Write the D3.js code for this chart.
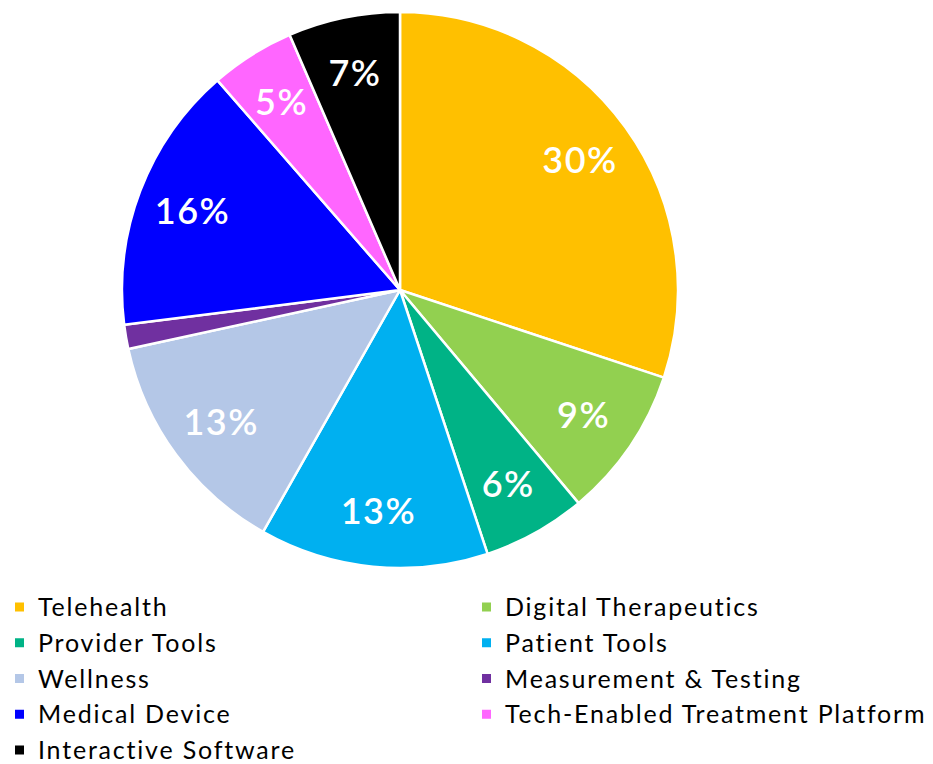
<!DOCTYPE html>
<html>
<head>
<meta charset="utf-8">
<script src="https://cdn.jsdelivr.net/npm/d3@7"></script>
<style>
  body { margin: 0; background: #fff; }
  text { font-family: Lato, "Open Sans", sans-serif; }
</style>
</head>
<body>
<svg id="chart"></svg>
<script>
const categories = ["Telehealth", "Digital Therapeutics", "Provider Tools", "Patient Tools", "Wellness",
  "Measurement & Testing", "Medical Device", "Tech-Enabled Treatment Platform", "Interactive Software"];
const shares = [30.1, 8.8, 6.0, 13.3, 13.4, 1.4, 15.6, 4.9, 6.5];
const colors = ["#FFC000", "#92D050", "#00B386", "#00B0F0", "#B4C7E7", "#7030A0", "#0000FF", "#FF66FF", "#000000"];

const width = 933, height = 764;
const cx = 400, cy = 290, radius = 278;

const svg = d3.select("#chart")
  .attr("width", width)
  .attr("height", height);

const data = categories.map((c, i) => ({name: c, value: shares[i], color: colors[i]}));

const pie = d3.pie().value(d => d.value).sort(null);
const arc = d3.arc().innerRadius(0).outerRadius(radius);
const labelArc = d3.arc().innerRadius(222).outerRadius(222);

const g = svg.append("g").attr("transform", `translate(${cx},${cy})`);
const arcs = pie(data);

g.selectAll("path")
  .data(arcs)
  .enter().append("path")
  .attr("d", arc)
  .attr("fill", d => d.data.color)
  .attr("stroke", "#fff")
  .attr("stroke-width", 2.5)
  .attr("stroke-linejoin", "round");

// small slices (measurement) have no label in the original
g.selectAll(".lbl")
  .data(arcs.filter(d => d.data.value >= 2))
  .enter().append("text")
  .attr("class", "lbl")
  .attr("transform", d => `translate(${labelArc.centroid(d)})`)
  .attr("text-anchor", "middle")
  .attr("dy", "0.36em")
  .attr("fill", "#fff")
  .attr("font-size", 36)
  .attr("font-weight", 600)
  .attr("letter-spacing", 1.5)
  .text(d => Math.round(d.data.value) + "%");

// legend, two columns
const legend = svg.append("g");
const colX = [15, 482], rowY = d3.scalePoint().domain(d3.range(5)).range([607, 750]);

const items = legend.selectAll("g")
  .data(data)
  .enter().append("g")
  .attr("transform", (d, i) => `translate(${colX[i % 2]},${rowY(Math.floor(i / 2))})`);

items.append("rect")
  .attr("x", 0).attr("y", -4.5)
  .attr("width", 9).attr("height", 9)
  .attr("fill", d => d.color);

items.append("text")
  .attr("x", 23)
  .attr("dy", "0.36em")
  .attr("font-size", 25)
  .attr("letter-spacing", 1.8)
  .attr("fill", "#000")
  .text(d => d.name);
</script>
</body>
</html>
